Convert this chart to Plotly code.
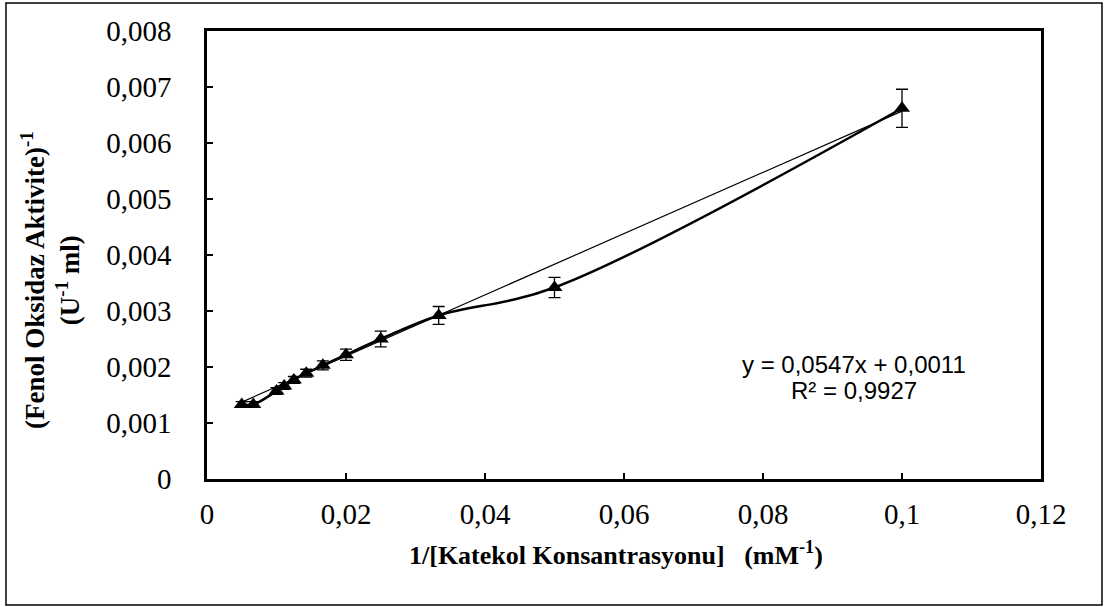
import plotly.graph_objects as go

# Data
inv_conc = [1/200, 1/150, 1/100, 1/90, 1/80, 1/70, 1/60, 1/50, 1/40, 1/30, 1/20, 1/10]
inv_activity = [0.00133, 0.00133, 0.00157, 0.00166, 0.00177, 0.00189, 0.00203,
                0.00222, 0.00250, 0.00292, 0.00342, 0.00662]
err = [0.00005, 0.00005, 0.00006, 0.00006, 0.00006, 0.00007, 0.00008,
       0.00010, 0.00014, 0.00016, 0.00018, 0.00034]

trend_slope = 0.0547
trend_intercept = 0.0011
trend_eq = "y = 0,0547x + 0,0011"
trend_r2 = "R² = 0,9927"

x_ticks = [0, 0.02, 0.04, 0.06, 0.08, 0.1, 0.12]
y_ticks = [0, 0.001, 0.002, 0.003, 0.004, 0.005, 0.006, 0.007, 0.008]

W, H = 1104, 607
L, R, T, B = 207, 63, 31, 128
pw, ph = W - L - R, H - T - B


def px(xp):
    return (xp - L) / pw


def py(yp):
    return (H - yp - B) / ph


fig = go.Figure()

tx = [min(inv_conc), max(inv_conc)]
ty = [trend_slope * v + trend_intercept for v in tx]
fig.add_trace(go.Scatter(x=tx, y=ty, mode="lines",
                         line=dict(color="black", width=1.2),
                         showlegend=False, hoverinfo="skip"))

fig.add_trace(go.Scatter(
    x=inv_conc, y=inv_activity, mode="lines+markers",
    line=dict(color="black", width=2.5, shape="spline", smoothing=1.0),
    marker=dict(symbol="triangle-up", size=14, color="black"),
    error_y=dict(type="data", array=err, visible=True, color="black",
                 thickness=1.3, width=6),
    showlegend=False))

serif = "Liberation Serif"
fig.update_layout(
    width=W, height=H,
    margin=dict(l=L, r=R, t=T, b=B),
    paper_bgcolor="white", plot_bgcolor="white",
    separators=", ",
    xaxis=dict(range=[0, 0.12], tickvals=x_ticks, showgrid=False, zeroline=False,
               showline=True, linecolor="black", linewidth=2.5, mirror=True,
               ticks="inside", ticklen=6, tickwidth=2, tickcolor="black",
               ticklabelstandoff=7,
               tickfont=dict(family=serif, size=29, color="black")),
    yaxis=dict(range=[0, 0.008], tickvals=y_ticks, showgrid=False, zeroline=False,
               showline=True, linecolor="black", linewidth=2.5, mirror=True,
               ticks="inside", ticklen=6, tickwidth=2, tickcolor="black",
               ticklabelstandoff=27,
               tickfont=dict(family=serif, size=29, color="black")),
    annotations=[
        dict(text=trend_eq, xref="paper", yref="paper", x=px(854), y=py(364),
             showarrow=False, xanchor="center", yanchor="middle",
             font=dict(family="Liberation Sans", size=24, color="black")),
        dict(text=trend_r2, xref="paper", yref="paper", x=px(854), y=py(390),
             showarrow=False, xanchor="center", yanchor="middle",
             font=dict(family="Liberation Sans", size=24, color="black")),
        dict(text="<b>1/[Katekol Konsantrasyonu]   (mM<sup>-1</sup>)</b>",
             xref="paper", yref="paper", x=px(616), y=py(553),
             showarrow=False, xanchor="center", yanchor="middle",
             font=dict(family=serif, size=26, color="black")),
        dict(text="<b>(Fenol Oksidaz Aktivite)<sup>-1</sup><br>(U<sup>-1</sup> ml)</b>",
             xref="paper", yref="paper", x=px(50), y=py(280),
             showarrow=False, textangle=-90, xanchor="center", yanchor="middle",
             font=dict(family=serif, size=27, color="black")),
    ],
    shapes=[dict(type="rect", xref="paper", yref="paper",
                 x0=px(6), x1=px(1102), y0=py(605), y1=py(3),
                 line=dict(color="black", width=1.5), layer="below")],
)

fig.write_html("out.html", config={"displayModeBar": False},
               post_script="document.body.style.margin='0';")
